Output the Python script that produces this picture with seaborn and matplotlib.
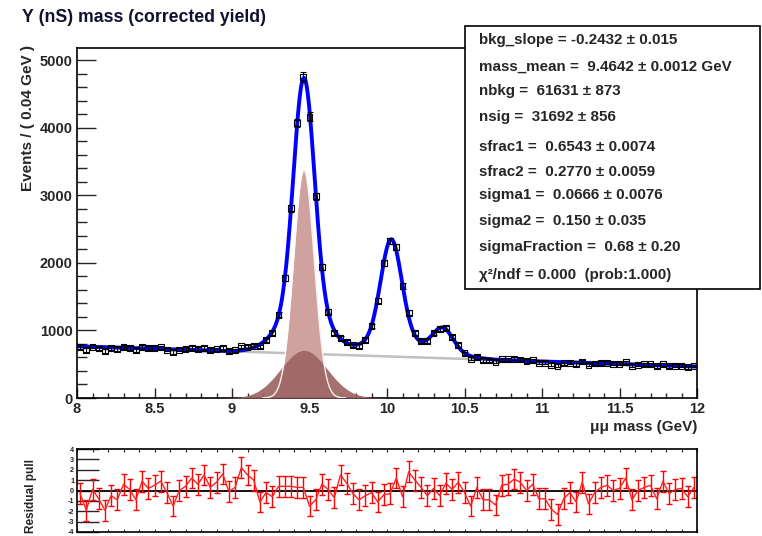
import numpy as np
import pandas as pd
import matplotlib
matplotlib.use("Agg")
import matplotlib.pyplot as plt
from matplotlib.patches import Rectangle
from matplotlib.ticker import MultipleLocator
import seaborn as sns

# ---------------- data ----------------
# histogram binning: 100 bins of 0.04 GeV between 8 and 12 GeV
x_min, x_max, bin_width, n_bins = 8.0, 12.0, 0.04, 100
bin_centers = [round(x_min + bin_width * (i + 0.5), 2) for i in range(n_bins)]

events = [756, 709, 761, 733, 700, 736, 722, 760, 743, 713,
          759, 737, 742, 750, 717, 679, 716, 724, 742, 723,
          744, 709, 720, 739, 694, 706, 764, 761, 776, 764,
          860, 964, 1233, 1780, 2811, 4072, 4755, 4166, 2989, 1944,
          1279, 966, 894, 834, 779, 773, 854, 1065, 1441, 1999,
          2327, 2239, 1657, 1264, 960, 849, 851, 964, 1022, 1041,
          901, 781, 662, 584, 607, 564, 555, 536, 575, 573,
          581, 570, 549, 560, 524, 521, 495, 480, 512, 523,
          499, 540, 489, 511, 519, 521, 507, 508, 528, 478,
          495, 498, 500, 468, 503, 473, 479, 478, 458, 474]

pulls = [-0.3, -1.9, 0.1, -0.8, -1.9, -0.5, -0.9, 0.6, 0.1, -0.9,
         0.9, 0.2, 0.5, 0.9, -0.2, -1.5, 0.0, 0.4, 1.2, 0.6,
         1.5, 0.3, 0.8, 1.6, -0.1, 0.3, 2.2, 1.5, 1.0, -1.1,
         -0.2, -0.6, 0.4, 0.4, 0.4, 0.3, 0.3, -1.5, -0.9, 0.6,
         0.1, -0.7, 1.5, 0.7, -0.3, -0.9, -0.5, -0.2, -1.1, -0.4,
         -0.3, 1.2, -0.6, 1.8, 1.0, 0.3, -0.5, 0.2, -0.5, 0.7,
         0.1, 0.8, -0.2, -1.5, 0.3, -0.9, -0.9, -1.4, 0.5, 0.6,
         1.1, 0.8, 0.0, 0.6, -0.8, -0.8, -1.8, -2.3, -0.8, -0.2,
         -1.1, 0.8, -1.3, -0.2, 0.3, 0.5, 0.0, 0.2, 1.2, -0.9,
         0.0, 0.3, 0.5, -0.8, 0.9, -0.3, 0.1, 0.2, -0.6, 0.3]

# fit parameters shown in the stat box
bkg_slope = -0.2432
mass_mean = 9.4642
nbkg = 61631
nsig = 31692
sfrac1 = 0.6543
sfrac2 = 0.2770
sigma1 = 0.0666
sigma2 = 0.150
sigma_fraction = 0.68
pdg_masses = [9.4603, 10.02326, 10.3552]   # Y(1S), Y(2S), Y(3S)

stat_lines = ["bkg_slope = -0.2432 \u00b1 0.015",
              "mass_mean =  9.4642 \u00b1 0.0012 GeV",
              "nbkg =  61631 \u00b1 873",
              "nsig =  31692 \u00b1 856",
              "sfrac1 =  0.6543 \u00b1 0.0074",
              "sfrac2 =  0.2770 \u00b1 0.0059",
              "sigma1 =  0.0666 \u00b1 0.0076",
              "sigma2 =  0.150 \u00b1 0.035",
              "sigmaFraction =  0.68 \u00b1 0.20",
              "\u03c7\u00b2/ndf = 0.000  (prob:1.000)"]
stat_y_px = [40, 66.5, 91.5, 117, 147, 171.5, 195, 221.5, 247.5, 275]

# ---------------- fit model ----------------
def gauss(x, n, mu, s):
    return n * bin_width / (np.sqrt(2 * np.pi) * s) * np.exp(-0.5 * ((x - mu) / s) ** 2)

xf = np.linspace(x_min, x_max, 1601)
bkg_curve = nbkg * bin_width / (x_max - x_min) * (1 + bkg_slope * (xf - 10.0) / 2.0)
fracs = [sfrac1, sfrac2, 1 - sfrac1 - sfrac2]
sig_total = np.zeros_like(xf)
for f, m in zip(fracs, pdg_masses):
    mu = mass_mean * m / pdg_masses[0]
    sig_total += gauss(xf, nsig * f * sigma_fraction, mu, sigma1)
    sig_total += gauss(xf, nsig * f * (1 - sigma_fraction), mu, sigma2)
narrow1 = gauss(xf, nsig * sfrac1 * sigma_fraction, mass_mean, sigma1)
wide1 = gauss(xf, nsig * sfrac1 * (1 - sigma_fraction), mass_mean, sigma2)
total = bkg_curve + sig_total

curve_df = pd.DataFrame({"mass": xf, "total": total, "bkg": bkg_curve})
data_df = pd.DataFrame({"mass": bin_centers, "events": events, "pull": pulls})

# ---------------- figure ----------------
sns.set_style("white")
plt.rcParams["font.family"] = ["Liberation Sans", "DejaVu Sans"]
plt.rcParams["font.weight"] = "bold"

W, H = 762, 536
fig = plt.figure(figsize=(W / 100, H / 100), dpi=100)
fig.patch.set_facecolor("white")

ax = fig.add_axes([77 / W, (H - 398) / H, 620 / W, 350 / H])
ax2 = fig.add_axes([77 / W, (H - 532) / H, 620 / W, 83 / H])

# background line
sns.lineplot(data=curve_df, x="mass", y="bkg", ax=ax, color="#c0c0c0", lw=1.8,
             zorder=1, legend=False)
# signal components (Y(1S) narrow and wide gaussians)
ax.fill_between(xf, 0, narrow1, where=narrow1 > 1, color="#cfa2a0", lw=0, zorder=2)
ax.fill_between(xf, 0, wide1, where=wide1 > 1, color="#9d6462", lw=0, alpha=0.92, zorder=3)
ax.plot(xf[narrow1 > 1], narrow1[narrow1 > 1], color="white", lw=1.0, alpha=0.9, zorder=4)
# total fit
sns.lineplot(data=curve_df, x="mass", y="total", ax=ax, color="#0000ff", lw=2.8,
             zorder=5, legend=False)
# data points
ax.errorbar(bin_centers, events, yerr=np.sqrt(events), fmt="none", ecolor="black",
            elinewidth=0.8, capsize=2.0, capthick=0.8, zorder=6)
sns.scatterplot(data=data_df, x="mass", y="events", ax=ax, marker="s", s=18,
                facecolor="none", edgecolor="black", linewidth=0.8, zorder=7)

ax.set_xlim(x_min, x_max)
ax.set_ylim(0, 5185)
ax.xaxis.set_major_locator(MultipleLocator(0.5))
ax.xaxis.set_minor_locator(MultipleLocator(0.1))
ax.yaxis.set_major_locator(MultipleLocator(1000))
ax.yaxis.set_minor_locator(MultipleLocator(200))
ax.set_xticks([8, 8.5, 9, 9.5, 10, 10.5, 11, 11.5, 12])
ax.set_xticklabels(["8", "8.5", "9", "9.5", "10", "10.5", "11", "11.5", "12"])
ax.tick_params(axis="x", which="major", direction="in", length=7, width=1.0,
               labelsize=10.5, pad=3, bottom=True, top=False)
ax.tick_params(axis="x", which="minor", direction="in", length=3.5, width=1.0,
               bottom=True, top=False)
ax.tick_params(axis="y", which="major", direction="in", length=14, width=1.0,
               labelsize=10.5, pad=3, left=True, right=False)
ax.tick_params(axis="y", which="minor", direction="in", length=7, width=1.0,
               left=True, right=False)
for lab in ax.get_xticklabels() + ax.get_yticklabels():
    lab.set_fontweight("bold")
ax.set_xlabel("")
ax.set_ylabel("")
for sp in ax.spines.values():
    sp.set_linewidth(1.2)
    sp.set_color("black")

# pull panel
ax2.axhline(0, color="black", lw=1.3, zorder=1)
ax2.errorbar(bin_centers, pulls, yerr=1.0, fmt="none", ecolor="#ff0000",
             elinewidth=1.0, capsize=2, capthick=1.0, zorder=2)
sns.lineplot(data=data_df, x="mass", y="pull", ax=ax2, color="#ff2020", lw=1.0,
             zorder=3, legend=False)
ax2.set_xlim(x_min, x_max)
ax2.set_ylim(-4, 4)
ax2.set_yticks([-4, -3, -2, -1, 0, 1, 2, 3, 4])
ax2.set_yticklabels(["-4", "-3", "-2", "-1", "0", "1", "2", "3", "4"])
ax2.xaxis.set_major_locator(MultipleLocator(0.5))
ax2.xaxis.set_minor_locator(MultipleLocator(0.1))
ax2.tick_params(axis="y", which="major", direction="in", length=16, width=1.0,
                labelsize=5.2, pad=2, left=True, right=False)
ax2.tick_params(axis="x", which="both", direction="in", length=2.5, width=0.8,
                labelbottom=False, bottom=True, top=True)
for lab in ax2.get_yticklabels():
    lab.set_fontweight("bold")
ax2.set_xlabel("")
ax2.set_ylabel("")
for sp in ax2.spines.values():
    sp.set_linewidth(1.2)
    sp.set_color("black")

# titles / axis titles
fig.text(22 / W, 1 - 18 / H, "\u03a5 (nS) mass (corrected yield)", fontsize=12.7,
         fontweight="bold", ha="left", va="center", color="#101030")
fig.text(28 / W, 1 - 45 / H, "Events / ( 0.04 GeV )", rotation=90, fontsize=11,
         fontweight="bold", ha="center", va="top")
fig.text(697 / W, 1 - 427 / H, "\u03bc\u03bc mass (GeV)", fontsize=11,
         fontweight="bold", ha="right", va="center")
fig.text(31 / W, 1 - 496 / H, "Residual pull", rotation=90, fontsize=8.5,
         fontweight="bold", ha="center", va="center")

# stat box
box = Rectangle((465 / W, 1 - 289 / H), 295 / W, 263 / H, transform=fig.transFigure,
                facecolor="white", edgecolor="black", lw=1.2, zorder=10)
fig.patches.append(box)
for line, ypx in zip(stat_lines, stat_y_px):
    fig.text(479 / W, 1 - ypx / H, line, fontsize=10.9, fontweight="bold",
             ha="left", va="center", zorder=11)

fig.savefig("out.png", dpi=100)
